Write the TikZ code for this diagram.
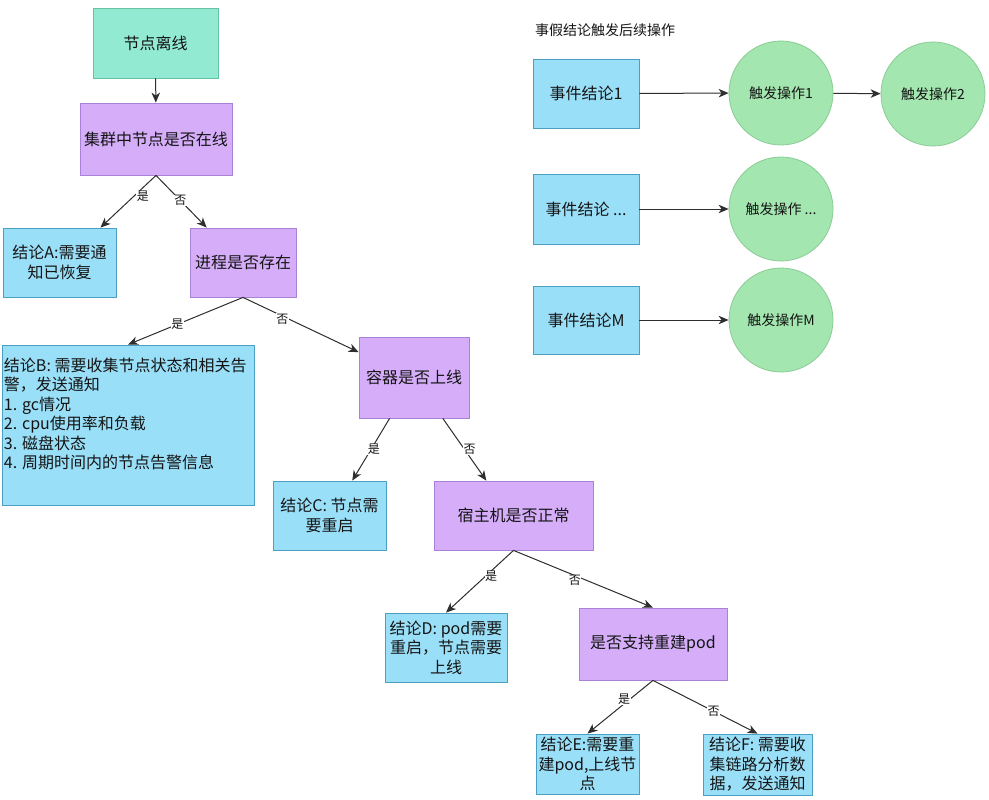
\documentclass[tikz,border=0pt]{standalone}
\usepackage{fontspec}
\setmainfont{Noto Sans CJK SC}
\usetikzlibrary{calc,arrows.meta}
\definecolor{tealfill}{HTML}{92EAD3}
\definecolor{tealline}{HTML}{67C2A3}
\definecolor{violetfill}{HTML}{D5ADF9}
\definecolor{violetline}{HTML}{A882D6}
\definecolor{bluefill}{HTML}{9ADFF8}
\definecolor{blueline}{HTML}{4C9FC0}
\definecolor{greenfill}{HTML}{A3E6AF}
\definecolor{greenline}{HTML}{8ACC95}
\definecolor{ink}{HTML}{141414}
\definecolor{wire}{HTML}{2E2E2E}
\tikzset{
  beginbox/.style={draw=tealline, fill=tealfill, line width=0.8pt, inner sep=2pt, text=ink,
    font=\fontsize{16}{19.5}\selectfont, align=center},
  askbox/.style={beginbox, draw=violetline, fill=violetfill},
  endbox/.style={beginbox, draw=blueline, fill=bluefill},
  actcirc/.style={circle, draw=greenline, fill=greenfill, line width=0.8pt, inner sep=0pt,
    minimum size=104pt, text=ink, font=\fontsize{14}{17}\selectfont},
  arr/.style={draw=wire, line width=1pt, -{Stealth[length=10pt,width=8.5pt,inset=3pt]}},
  yn/.style={fill=white, inner sep=0.5pt, text=ink, font=\fontsize{12}{14}\selectfont},
}
\begin{document}
\begin{tikzpicture}[x=1pt,y=-1pt]
  \fill[white] (0,0) rectangle (989,800);
  \useasboundingbox (0,0) rectangle (989,800);

  % decision tree
  \node[beginbox, minimum width=125pt, minimum height=70pt] (offline) at (155.5,43) {节点离线};
  \node[askbox, minimum width=152pt, minimum height=72pt] (online) at (156,139) {集群中节点是否在线};
  \node[endbox, minimum width=113pt, minimum height=69pt] (concA) at (59.5,262.5) {结论A:需要通\\知已恢复};
  \node[askbox, minimum width=106pt, minimum height=69pt] (proc) at (243,262.5) {进程是否存在};
  \node[endbox, minimum width=252pt, minimum height=160pt, align=left] (concB) at (128,425)
    {\parbox[c][156pt][t]{248pt}{\raggedright\rule{0pt}{24pt}结论B: 需要收集节点状态和相关告\\
      警，发送通知\\1. gc情况\\2. cpu使用率和负载\\3. 磁盘状态\\4. 周期时间内的节点告警信息}};
  \node[askbox, minimum width=110pt, minimum height=81pt] (cont) at (414,377.5) {容器是否上线};
  \node[endbox, minimum width=113pt, minimum height=69pt] (concC) at (329.5,515.5) {结论C: 节点需\\要重启};
  \node[askbox, minimum width=159pt, minimum height=69pt] (host) at (513.5,515.5) {宿主机是否正常};
  \node[endbox, minimum width=122pt, minimum height=69pt] (concD) at (446,647.5) {结论D: pod需要\\重启，节点需要\\上线};
  \node[askbox, minimum width=148pt, minimum height=72pt] (rebuild) at (653,644) {是否支持重建pod};
  \node[endbox, minimum width=103pt, minimum height=60pt] (concE) at (587.5,764) {结论E:需要重\\建pod,上线节\\点};
  \node[endbox, minimum width=109pt, minimum height=61pt] (concF) at (757.5,764.5) {结论F: 需要收\\集链路分析数\\据，发送通知};

  \draw[arr] (offline) -- (online);
  \draw[arr] (online.south) -- ($(concA.north west)!0.86!(concA.north east)$)
    node[yn, pos=0.4, xshift=9pt] {是};
  \draw[arr] (online.south) -- ($(proc.north west)!0.16!(proc.north east)$)
    node[yn, pos=0.48] {否};
  \draw[arr] (proc.south) -- (concB.north) node[yn, pos=0.57] {是};
  \draw[arr] (proc.south) -- ($(cont.north west)!0.19!(cont.south west)$)
    node[yn, pos=0.34, yshift=-3pt] {否};
  \draw[arr] ($(cont.south west)!0.28!(cont.south east)$) -- ($(concC.north west)!0.7!(concC.north east)$)
    node[yn, pos=0.5, xshift=3pt] {是};
  \draw[arr] ($(cont.south west)!0.76!(cont.south east)$) -- ($(host.north west)!0.33!(host.north east)$)
    node[yn, pos=0.5, xshift=5pt] {否};
  \draw[arr] (host.south) -- (concD.north) node[yn, pos=0.42, xshift=6pt] {是};
  \draw[arr] (host.south) -- (rebuild.north) node[yn, pos=0.44, yshift=-5pt] {否};
  \draw[arr] (rebuild.south) -- (concE.north) node[yn, pos=0.35, xshift=-6pt] {是};
  \draw[arr] (rebuild.south) -- (concF.north) node[yn, pos=0.58] {否};

  % follow-up actions
  \node[anchor=west, inner sep=0pt, text=ink, font=\fontsize{14}{17}\selectfont] (title) at (535,30) {事假结论触发后续操作};
  \node[endbox, minimum width=106pt, minimum height=69pt] (ev1) at (586,93.5) {事件结论1};
  \node[endbox, minimum width=106pt, minimum height=70pt] (evn) at (586,209) {事件结论 ...};
  \node[endbox, minimum width=106pt, minimum height=68pt] (evm) at (586,320) {事件结论M};
  \node[actcirc] (op1) at (781,93) {触发操作1};
  \node[actcirc] (op2) at (933,94) {触发操作2};
  \node[actcirc] (opn) at (781,209) {触发操作 ...};
  \node[actcirc] (opm) at (781,320) {触发操作M};

  \draw[arr] (ev1) -- (op1);
  \draw[arr] (op1) -- (op2);
  \draw[arr] (evn) -- (opn);
  \draw[arr] (evm) -- (opm);
\end{tikzpicture}
\end{document}
